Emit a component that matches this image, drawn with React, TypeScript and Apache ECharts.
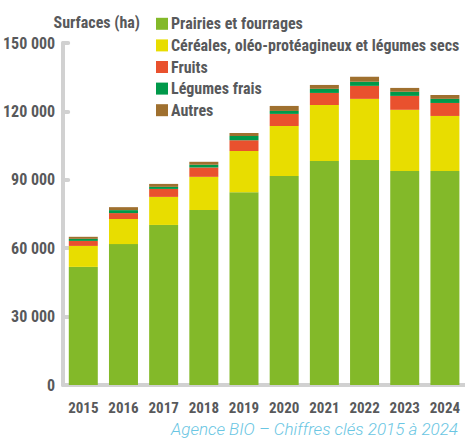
import React, { useEffect, useRef } from "react";
import * as echarts from "echarts";

const years = ["2015", "2016", "2017", "2018", "2019", "2020", "2021", "2022", "2023", "2024"];
const prairies = [51800, 61800, 70200, 76800, 84500, 91700, 98200, 98700, 93900, 93900];
const cereales = [9200, 11000, 12300, 14500, 18100, 21900, 24600, 26800, 26800, 24100];
const fruits = [2200, 2600, 3500, 4100, 4800, 5300, 5300, 5700, 6100, 5700];
const legumes = [900, 1300, 900, 1200, 1800, 1300, 1800, 1800, 1800, 1800];
const autres = [900, 1300, 1300, 1300, 1300, 2200, 1700, 2200, 1700, 1700];

const seriesNames = [
  "Prairies et fourrages",
  "Céréales, oléo-protéagineux et légumes secs",
  "Fruits",
  "Légumes frais",
  "Autres",
];
const colors = ["#83b929", "#e8dd00", "#e9512e", "#00994a", "#9f702f"];

const condensed = "'Liberation Sans Narrow', 'Roboto Condensed', Roboto, sans-serif";
const grey = "#58595b";
const axisGrey = "#d1d1d1";

function fmt(v: number): string {
  const s = String(Math.round(v));
  return s.replace(/\B(?=(\d{3})+(?!\d))/g, " ");
}

export default function App() {
  const ref = useRef<HTMLDivElement>(null);
  useEffect(() => {
    if (!ref.current) return;
    const chart = echarts.init(ref.current, undefined, { renderer: "svg" });
    const data = [prairies, cereales, fruits, legumes, autres];
    chart.setOption({
      animation: false,
      backgroundColor: "#ffffff",
      grid: { left: 61, top: 43, width: 408, height: 342, containLabel: false },
      legend: {
        orient: "vertical",
        left: 151,
        top: 8,
        itemWidth: 12,
        itemHeight: 12,
        itemGap: 0,
        icon: "rect",
        data: seriesNames,
        textStyle: {
          fontFamily: condensed,
          fontWeight: "bold",
          fontSize: 16,
          color: grey,
          lineHeight: 21.6,
          padding: [0, 0, 0, -2],
        },
        selectedMode: false,
      },
      graphic: [
        {
          type: "text",
          right: 325,
          top: 14,
          style: {
            text: "Surfaces (ha)",
            fontFamily: condensed,
            fontWeight: "bold",
            fontSize: 16,
            fill: grey,
          },
        },
        {
          type: "text",
          right: 7,
          top: 420,
          style: {
            text: "Agence BIO – Chiffres clés 2015 à 2024",
            fontFamily: "Roboto, sans-serif",
            fontStyle: "italic",
            fontWeight: 300,
            fontSize: 17,
            fill: "#6ac6e3",
          },
        },
      ],
      xAxis: {
        type: "category",
        data: years,
        axisLine: { lineStyle: { color: axisGrey, width: 4, cap: "round" } },
        axisTick: { show: false },
        axisLabel: {
          margin: 15,
          fontFamily: condensed,
          fontWeight: "bold",
          fontSize: 15,
          color: grey,
        },
      },
      yAxis: {
        type: "value",
        min: 0,
        max: 150000,
        interval: 30000,
        axisLine: { show: true, lineStyle: { color: axisGrey, width: 4, cap: "round" } },
        axisTick: { show: true, inside: true, length: 5, lineStyle: { color: axisGrey, width: 4, cap: "round" } },
        splitLine: { show: false },
        axisLabel: {
          margin: 8,
          fontFamily: condensed,
          fontWeight: "bold",
          fontSize: 16,
          color: grey,
          formatter: (v: number) => fmt(v),
        },
      },
      series: seriesNames.map((name, i) => ({
        name,
        type: "bar",
        stack: "total",
        barWidth: 29,
        itemStyle: { color: colors[i] },
        data: data[i],
      })),
    });
    return () => chart.dispose();
  }, []);
  return <div ref={ref} style={{ position: "fixed", left: 0, top: 0, width: 465, height: 439 }} />;
}
